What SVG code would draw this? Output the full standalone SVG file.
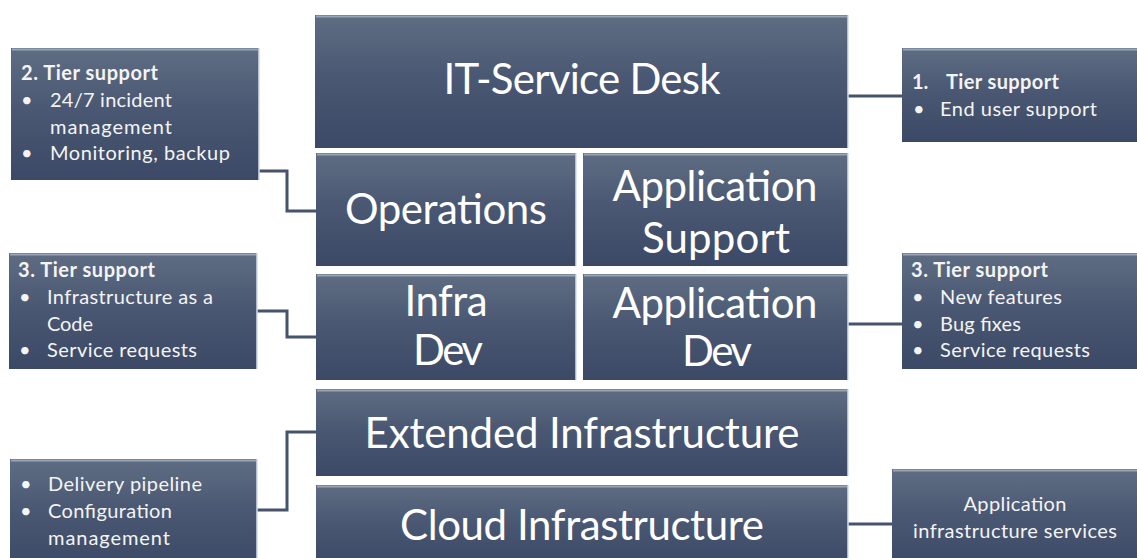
<svg xmlns="http://www.w3.org/2000/svg" width="1137" height="558" viewBox="0 0 1137 558">
  <defs>
    <linearGradient id="boxFill" x1="0" y1="0" x2="0" y2="1">
      <stop offset="0" stop-color="#5f6d83"/>
      <stop offset="0.45" stop-color="#4a5873"/>
      <stop offset="1" stop-color="#3b4966"/>
    </linearGradient>
    <style>
      .box { fill: url(#boxFill); }
      .hi { fill: none; stroke: #98a4b6; stroke-width: 2; }
      .edge { fill: none; stroke: #d3ddef; stroke-width: 1.5; }
      .big { font-family: Lato, "Open Sans", sans-serif; font-size: 42px; fill: #ffffff; text-anchor: middle; }
      .sm { font-family: Lato, "Open Sans", sans-serif; font-size: 20px; fill: #f4f4f4; }
      .hd { font-weight: bold; }
      .mid { text-anchor: middle; }
      .conn { fill: none; stroke: #45536b; stroke-width: 3; stroke-linejoin: miter; }
    </style>
  </defs>
  <rect width="1137" height="558" fill="#ffffff"/>

  <!-- connectors -->
  <g id="connectors">
    <polyline class="conn" points="259,171 287,171 287,211 316,211"/>
    <polyline class="conn" points="257,311 287,311 287,337 316,337"/>
    <polyline class="conn" points="257,510 287,510 287,432 316,432"/>
    <line class="conn" x1="848" y1="96" x2="902" y2="96"/>
    <line class="conn" x1="848" y1="324" x2="902" y2="324"/>
    <line class="conn" x1="848" y1="524" x2="892" y2="524"/>
  </g>

  <!-- central stack -->
  <g id="it-service-desk">
    <rect class="box" x="315" y="15" width="533" height="133"/>
    <path class="hi" d="M316,16.5 H847"/>
    <path class="edge" d="M848,15 V148"/>
    <text class="big" x="582" y="94" textLength="277">IT-Service Desk</text>
  </g>

  <g id="operations">
    <rect class="box" x="316" y="153" width="260" height="113"/>
    <path class="hi" d="M317,154.5 H575"/>
    <path class="edge" d="M576,153 V266"/>
    <text class="big" x="446" y="224" textLength="202">Operations</text>
  </g>

  <g id="application-support">
    <rect class="box" x="583" y="153" width="265" height="113"/>
    <path class="hi" d="M584,154.5 H847"/>
    <path class="edge" d="M848,153 V266"/>
    <text class="big" x="715" y="201" textLength="205">Application</text>
    <text class="big" x="716" y="253" textLength="148">Support</text>
  </g>

  <g id="infra-dev">
    <rect class="box" x="316" y="274" width="260" height="106"/>
    <path class="hi" d="M317,275.5 H575"/>
    <path class="edge" d="M576,274 V380"/>
    <text class="big" x="446" y="316" textLength="83">Infra</text>
    <text class="big" x="448" y="365" textLength="70">Dev</text>
  </g>

  <g id="application-dev">
    <rect class="box" x="583" y="274" width="265" height="106"/>
    <path class="hi" d="M584,275.5 H847"/>
    <path class="edge" d="M848,274 V380"/>
    <text class="big" x="715" y="318" textLength="205">Application</text>
    <text class="big" x="717" y="366" textLength="70">Dev</text>
  </g>

  <g id="extended-infrastructure">
    <rect class="box" x="316" y="389" width="532" height="87"/>
    <path class="hi" d="M317,390.5 H847"/>
    <path class="edge" d="M848,389 V476"/>
    <text class="big" x="582" y="448" textLength="435">Extended Infrastructure</text>
  </g>

  <g id="cloud-infrastructure">
    <rect class="box" x="316" y="485" width="532" height="80"/>
    <path class="hi" d="M317,486.5 H847"/>
    <path class="edge" d="M848,485 V558"/>
    <text class="big" x="582" y="540" textLength="364">Cloud Infrastructure</text>
  </g>

  <!-- side notes -->
  <g id="tier2-ops">
    <rect class="box" x="11" y="48" width="248" height="132"/>
    <path class="hi" d="M12,49.5 H258"/>
    <path class="edge" d="M259,48 V180"/>
    <text class="sm hd" x="21" y="80" textLength="137">2. Tier support</text>
    <text class="sm" x="21" y="107">•</text>
    <text class="sm" x="50" y="107" textLength="122">24/7 incident</text>
    <text class="sm" x="50" y="134" textLength="122">management</text>
    <text class="sm" x="21" y="160">•</text>
    <text class="sm" x="50" y="160" textLength="180">Monitoring, backup</text>
  </g>

  <g id="tier1-desk">
    <rect class="box" x="902" y="48" width="240" height="94"/>
    <path class="hi" d="M903,49.5 H1137"/>
    <text class="sm hd" x="912" y="89">1.</text>
    <text class="sm hd" x="946" y="89" textLength="113">Tier support</text>
    <text class="sm" x="913" y="116">•</text>
    <text class="sm" x="940" y="116" textLength="157">End user support</text>
  </g>

  <g id="tier3-infra">
    <rect class="box" x="9" y="253" width="248" height="116"/>
    <path class="hi" d="M10,254.5 H256"/>
    <path class="edge" d="M257,253 V369"/>
    <text class="sm hd" x="18" y="277" textLength="137">3. Tier support</text>
    <text class="sm" x="19" y="304">•</text>
    <text class="sm" x="47" y="304" textLength="166">Infrastructure as a</text>
    <text class="sm" x="47" y="331" textLength="46">Code</text>
    <text class="sm" x="19" y="357">•</text>
    <text class="sm" x="47" y="357" textLength="150">Service requests</text>
  </g>

  <g id="tier3-app">
    <rect class="box" x="902" y="253" width="240" height="116"/>
    <path class="hi" d="M903,254.5 H1137"/>
    <text class="sm hd" x="911" y="277" textLength="137">3. Tier support</text>
    <text class="sm" x="912" y="304">•</text>
    <text class="sm" x="940" y="304" textLength="122">New features</text>
    <text class="sm" x="912" y="331">•</text>
    <text class="sm" x="940" y="331" textLength="81">Bug fixes</text>
    <text class="sm" x="912" y="357">•</text>
    <text class="sm" x="940" y="357" textLength="150">Service requests</text>
  </g>

  <g id="delivery">
    <rect class="box" x="10" y="459" width="247" height="110"/>
    <path class="hi" d="M11,460.5 H256"/>
    <path class="edge" d="M257,459 V558"/>
    <text class="sm" x="20" y="491">•</text>
    <text class="sm" x="48" y="491" textLength="154">Delivery pipeline</text>
    <text class="sm" x="20" y="518">•</text>
    <text class="sm" x="48" y="518" textLength="124">Configuration</text>
    <text class="sm" x="48" y="545" textLength="122">management</text>
  </g>

  <g id="app-infra-services">
    <rect class="box" x="892" y="469" width="250" height="100"/>
    <path class="hi" d="M893,470.5 H1137"/>
    <text class="sm mid" x="1015" y="511" textLength="103">Application</text>
    <text class="sm mid" x="1015" y="538" textLength="204">infrastructure services</text>
  </g>
</svg>
